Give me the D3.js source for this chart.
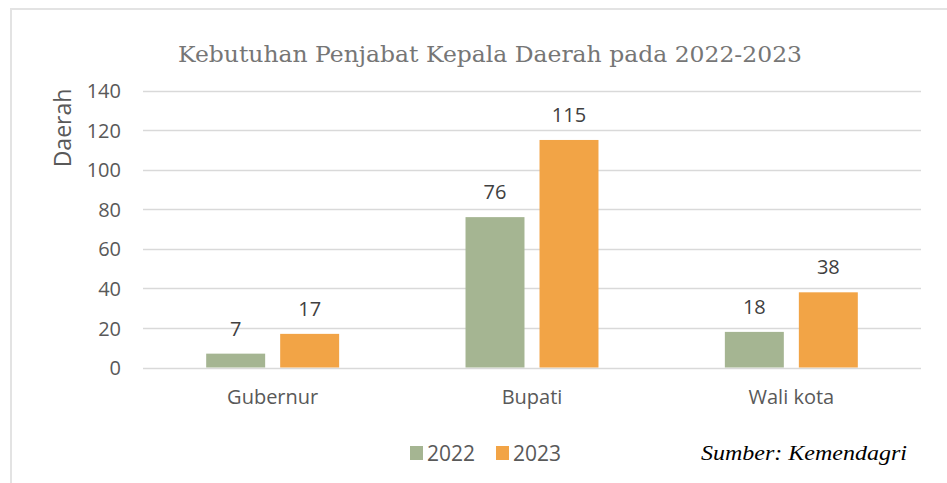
<!DOCTYPE html>
<html>
<head>
<meta charset="utf-8">
<script src="https://cdn.jsdelivr.net/npm/d3@7"></script>
<style>
  html, body { margin: 0; padding: 0; background: #ffffff; }
  svg { display: block; }
</style>
</head>
<body>
<svg id="chart" width="947" height="483"></svg>
<script>
// Data
const categories = ["Gubernur", "Bupati", "Wali kota"];
const seriesNames = ["2022", "2023"];
const values2022 = [7, 76, 18];
const values2023 = [17, 115, 38];
const yTicks = [0, 20, 40, 60, 80, 100, 120, 140];

const colors = { "2022": "#a5b592", "2023": "#f2a446" };
const seriesValues = { "2022": values2022, "2023": values2023 };

const W = 947, H = 483;
const plot = { left: 143, right: 921, top: 90.5, bottom: 367.5 };

const svg = d3.select("#chart");

// Outer frame (top and left edges)
svg.append("line").attr("x1", 10).attr("x2", W).attr("y1", 9).attr("y2", 9)
  .attr("stroke", "#e3e3e3").attr("stroke-width", 2);
svg.append("line").attr("x1", 11).attr("x2", 11).attr("y1", 9).attr("y2", H)
  .attr("stroke", "#e3e3e3").attr("stroke-width", 2);

const x = d3.scaleBand().domain(categories).range([plot.left, plot.right]).padding(0);
const xInner = d3.scaleBand().domain(seriesNames).range([0, x.bandwidth()])
  .paddingInner(0.203).paddingOuter(0.854);
const y = d3.scaleLinear().domain([0, 140]).range([plot.bottom, plot.top]);

const sans = "'Open Sans', Lato, 'Noto Sans', sans-serif";

// Gridlines
svg.append("g").selectAll("line").data(yTicks).join("line")
  .attr("x1", plot.left).attr("x2", plot.right)
  .attr("y1", d => Math.round(y(d)) + 0.5).attr("y2", d => Math.round(y(d)) + 0.5)
  .attr("stroke", "#d9d9d9").attr("stroke-width", 1.5);

// Y axis labels
const yAxis = d3.axisLeft(y).tickValues(yTicks).tickSize(0).tickPadding(0);
const yG = svg.append("g").attr("transform", `translate(121,0)`).call(yAxis);
yG.select(".domain").remove();
yG.selectAll("text").attr("font-family", sans).attr("font-size", 20)
  .attr("fill", "#595959").attr("dy", "0.36em");

// Y axis title
svg.append("text")
  .attr("transform", `translate(71,128) rotate(-90)`)
  .attr("text-anchor", "middle")
  .attr("font-family", sans).attr("font-size", 23).attr("fill", "#595959")
  .text("Daerah");

// X axis category labels
const xAxis = d3.axisBottom(x).tickSize(0).tickPadding(0);
const xG = svg.append("g").attr("transform", `translate(0,390)`).call(xAxis);
xG.select(".domain").remove();
xG.selectAll("text").attr("font-family", sans).attr("font-size", 20)
  .attr("fill", "#595959").attr("dy", "0.71em");

// Bars
const groups = svg.append("g").selectAll("g").data(categories).join("g")
  .attr("transform", d => `translate(${x(d)},0)`);

const barData = (cat, i) => seriesNames.map(s => ({ cat, s, v: seriesValues[s][i] }));

groups.selectAll("rect").data((d, i) => barData(d, i)).join("rect")
  .attr("x", d => xInner(d.s))
  .attr("width", xInner.bandwidth())
  .attr("y", d => y(d.v))
  .attr("height", d => y(0) - y(d.v))
  .attr("fill", d => colors[d.s]);

// Data labels
groups.selectAll("text").data((d, i) => barData(d, i)).join("text")
  .attr("x", d => xInner(d.s) + xInner.bandwidth() / 2)
  .attr("y", d => y(d.v) - 18)
  .attr("text-anchor", "middle")
  .attr("font-family", sans).attr("font-size", 20).attr("fill", "#404040")
  .text(d => d.v);

// Title
svg.append("text")
  .attr("x", 490).attr("y", 62)
  .attr("text-anchor", "middle")
  .attr("font-family", "'DejaVu Serif', 'Liberation Serif', serif")
  .attr("font-size", 22).attr("fill", "#767676")
  .attr("textLength", 624).attr("lengthAdjust", "spacingAndGlyphs")
  .text("Kebutuhan Penjabat Kepala Daerah pada 2022-2023");

// Legend
const legend = svg.append("g").attr("transform", "translate(410,453)");
const legendItems = legend.selectAll("g").data(seriesNames).join("g")
  .attr("transform", (d, i) => `translate(${i * 86},0)`);
legendItems.append("rect").attr("x", 0).attr("y", -7).attr("width", 13).attr("height", 14)
  .attr("fill", d => colors[d]);
legendItems.append("text").attr("x", 17).attr("y", 0).attr("dy", "0.36em")
  .attr("font-family", sans).attr("font-size", 21).attr("fill", "#595959")
  .text(d => d);

// Source note
svg.append("text")
  .attr("x", 907).attr("y", 460)
  .attr("text-anchor", "end")
  .attr("font-family", "'Liberation Serif', 'Times New Roman', serif")
  .attr("font-style", "italic").attr("font-size", 22).attr("fill", "#000000")
  .attr("textLength", 206).attr("lengthAdjust", "spacingAndGlyphs")
  .text("Sumber: Kemendagri");
</script>
</body>
</html>
